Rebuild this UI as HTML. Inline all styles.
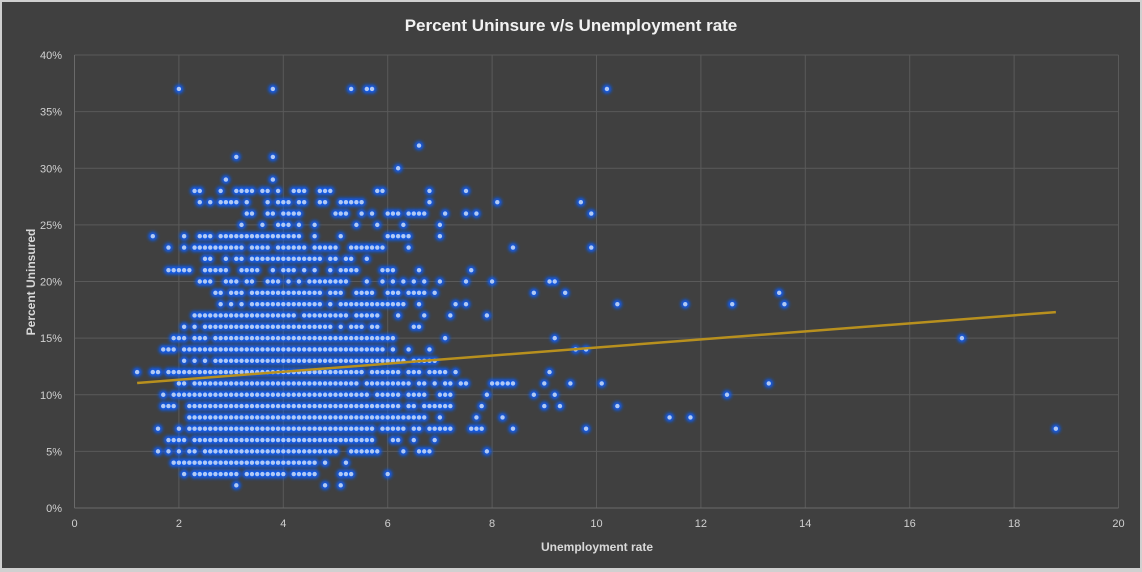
<!DOCTYPE html>
<html><head><meta charset="utf-8">
<style>
html,body{margin:0;padding:0;background:#d0d0d0;}
#wrap{position:absolute;left:2px;top:2px;width:1138px;height:566px;background:#404040;}
svg{position:absolute;left:0;top:0;}
text{font-family:"Liberation Sans",sans-serif;}
</style></head>
<body>
<div id="wrap"></div>
<svg id="chart" width="1142" height="572">
<defs>
<filter id="glow" x="-100%" y="-100%" width="300%" height="300%"><feGaussianBlur stdDeviation="1.7"/></filter>
</defs>
<text x="571" y="31" text-anchor="middle" font-size="17" font-weight="bold" fill="#f2f2f2">Percent Uninsure v/s Unemployment rate</text>
<g id="grid"></g>
<g id="glows" filter="url(#glow)"></g>
<g id="dots"></g>
<g id="trend"></g>
<g id="axes"></g>
<text x="597" y="551" text-anchor="middle" font-size="12" font-weight="bold" fill="#d9d9d9">Unemployment rate</text>
<text transform="translate(35,282) rotate(-90)" text-anchor="middle" font-size="12" font-weight="bold" fill="#d9d9d9">Percent Uninsured</text>
</svg>
<script>
const xTicks=[0,2,4,6,8,10,12,14,16,18,20];
const yTicks=[0,5,10,15,20,25,30,35,40];
const rowPct=[37,32,31,30,29,28,27,26,25,24,23,22,21,20,19,18,17,16,15,14,13,12,11,10,9,8,7,6,5,4,3,2];
const rowSegs=[
"2.0 3.8 5.3 5.6 5.7 10.2",
"6.6",
"3.1 3.8",
"6.2",
"2.9 3.8",
"2.3-2.4 2.8 3.1-3.4 3.6-3.7 3.9 4.2-4.4 4.7-4.9 5.8-5.9 6.8 7.5",
"2.4 2.6 2.8-3.1 3.3 3.7 3.9-4.1 4.3-4.4 4.7-4.8 5.1-5.5 6.8 8.1 9.7",
"3.3-3.4 3.7-3.8 4.0-4.3 5.0-5.2 5.5 5.7 6.0-6.2 6.4-6.7 7.1 7.5 7.7 9.9",
"3.2 3.6 3.9-4.1 4.3 4.6 5.4 5.8 6.3 7.0",
"1.5 2.1 2.4-2.6 2.8-4.2 4.3 4.6 5.1 6.0-6.4 7.0",
"1.8 2.1 2.3-3.2 3.4-3.7 3.9-4.4 4.6-5.0 5.3-5.9 6.4 8.4 9.9",
"2.5-2.6 2.9 3.1-3.2 3.4-4.7 4.9-5.0 5.2-5.3 5.6",
"1.8-2.2 2.5-2.9 3.2-3.5 3.8 4.0-4.2 4.4 4.6 4.9 5.1-5.4 5.9-6.1 6.6 7.6",
"2.4-2.6 2.9-3.1 3.3-3.4 3.7-3.9 4.1 4.3 4.5-5.2 5.6 5.9 6.1 6.3 6.5 6.7 7.0 7.5 8.0 9.1 9.2",
"2.7-2.8 3.0-3.2 3.4-4.7 4.9-5.1 5.4-5.7 6.0-6.2 6.4-6.7 6.9 8.8 9.4 13.5",
"2.8 3.0 3.2 3.4-4.7 4.9 5.1-6.3 6.6 7.3 7.5 10.4 11.7 12.6 13.6",
"2.3-4.2 4.4-5.2 5.4-5.8 6.2 6.7 7.2 7.9",
"2.1 2.3 2.5-4.9 5.1 5.3-5.5 5.7-5.8 6.5-6.6",
"1.9-2.1 2.3-2.5 2.7-6.1 7.1 9.2 17.0",
"1.7-1.9 2.1-5.9 6.1 6.4 6.8 9.6 9.8",
"2.1 2.3 2.5 2.7-6.3 6.5-6.9",
"1.2 1.5-1.6 1.8-5.5 5.7-6.2 6.4-6.6 6.8-7.1 7.3 9.1",
"2.0-2.1 2.3-5.4 5.6-6.4 6.6-6.7 6.9 7.1-7.2 7.4-7.5 8.0-8.4 9.0 9.5 10.1 13.3",
"1.7 1.9-5.6 5.8-6.2 6.4-6.7 7.0-7.2 7.9 8.8 9.2 12.5",
"1.7-1.9 2.2-6.2 6.4-6.5 6.7-7.2 7.8 9.0 9.3 10.4",
"2.2-6.7 7.0 7.7 8.2 11.4 11.8",
"1.6 2.0 2.2-5.7 5.9-6.3 6.5-6.6 6.8-7.2 7.6-7.8 8.4 9.8 18.8",
"1.8-2.1 2.3-5.7 6.1-6.2 6.5 6.9",
"1.6 1.8 2.0 2.2-2.3 2.5-5.0 5.3-5.4 5.5-5.8 6.3 6.6-6.8 7.9",
"1.9-4.6 4.8 5.2",
"2.1 2.3-3.1 3.3-4.0 4.2-4.6 5.1-5.3 6.0",
"3.1 4.8 5.1"
];
const trendX=[1.2,18.8];
const trendY=[11.04,17.3];
const NS='http://www.w3.org/2000/svg';
const X0=74.5,X1=1118.5,Y0=508,Y1=55;
function sx(v){return X0+(v-0)/(20-0)*(X1-X0);}
function sy(v){return Y0-(v-0)/(40-0)*(Y0-Y1);}
function mk(tag,attrs,parent){const e=document.createElementNS(NS,tag);for(const k in attrs)e.setAttribute(k,attrs[k]);parent.appendChild(e);return e;}
const grid=document.getElementById('grid'),axes=document.getElementById('axes');
xTicks.forEach(t=>{
  if(t>0){const l=mk('line',{x1:sx(t),x2:sx(t),y1:Y1,y2:Y0,stroke:'#5a5a5a','stroke-width':1},grid);
  
  }
  const tx=mk('text',{x:sx(t),y:Y0+19,'text-anchor':'middle','font-size':11,fill:'#d0d0d0'},axes);
  tx.textContent=t;
  
  
});
yTicks.forEach(t=>{
  const l=mk('line',{x1:X0,x2:X1,y1:sy(t),y2:sy(t),stroke:t===0?'#6a6a6a':'#5a5a5a','stroke-width':1},grid);
  
  
  const tx=mk('text',{x:62,y:sy(t)+4,'text-anchor':'end','font-size':11,fill:'#d0d0d0'},axes);
  tx.textContent=t+'%';
  
  
});
const la=mk('line',{x1:X0,x2:X0,y1:Y1,y2:Y0,stroke:'#6a6a6a','stroke-width':1},grid);


const glows=document.getElementById('glows'),dots=document.getElementById('dots');
rowPct.forEach((p,i)=>{
  rowSegs[i].split(' ').forEach(seg=>{
    const parts=seg.split('-').map(Number);
    const a=Math.round(parts[0]*10),b=Math.round((parts[1]!==undefined?parts[1]:parts[0])*10);
    for(let k=a;k<=b;k++){
      const x=sx(k/10),y=sy(p);
      mk('circle',{cx:x,cy:y,r:4.6,fill:'#0f5cf0'},glows);
      const d=mk('circle',{cx:x,cy:y,r:2.2,fill:'#b0c8f4'},dots);
      
      
    }
  });
});
const tl=mk('line',{x1:sx(trendX[0]),y1:sy(trendY[0]),x2:sx(trendX[1]),y2:sy(trendY[1]),stroke:'#b8901e','stroke-width':2.5},document.getElementById('trend'));


</script>
</body></html>
